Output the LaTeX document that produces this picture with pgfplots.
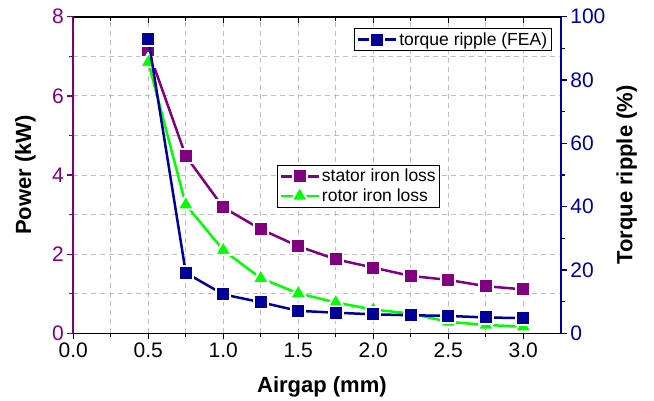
\documentclass[border=0pt]{standalone}
\usepackage{pgfplots}
\pgfplotsset{compat=1.18}
\usepackage{fontspec}
\setmainfont{Liberation Sans}
\definecolor{cpurple}{RGB}{128,0,128}
\definecolor{cblue}{RGB}{0,0,153}
\definecolor{cgreen}{RGB}{0,255,0}
\begin{document}
\begin{tikzpicture}
\pgfplotsset{
  base/.style={scale only axis, width=487.5pt, height=316.6pt, xmin=0, xmax=3.25,
    /pgf/number format/assume math mode=true,
    tick label style={font=\fontsize{21}{24}\selectfont},
    label style={font=\fontsize{22}{26}\selectfont\bfseries},
    xtick={0,0.5,1,1.5,2,2.5,3}, minor x tick num=1,
    axis line style={line width=1.6pt},
    tick style={line width=1.3pt},
    major tick length=6pt, minor tick length=4pt,
    legend style={font=\fontsize{17.5}{20}\selectfont, draw=black, line width=0.8pt, inner sep=2pt, row sep=1pt},
    legend cell align=left,
    legend image code/.code={\draw[mark repeat=2,mark phase=2] plot coordinates {(0pt,0pt) (19pt,0pt) (38pt,0pt)};},
  },
  sq/.style={line width=2.5pt, mark=square*, mark size=7pt, mark options={fill=#1, draw=white, line width=2pt, solid}},
  tri/.style={line width=2.5pt, mark=triangle*, mark size=9.5pt, mark options={fill=#1, draw=white, line width=2pt, line join=round, solid}},
}
% left axis: power
\begin{axis}[base, axis x line*=bottom, axis y line*=left, ymin=0, ymax=8,
  ytick={0,2,4,6,8}, minor y tick num=1, tick align=outside,
  grid=both,
  major grid style={gray!50, line width=0.8pt, dash pattern=on 5pt off 4pt},
  minor grid style={gray!50, line width=0.8pt, dash pattern=on 5pt off 4pt},
  xticklabel style={/pgf/number format/.cd, fixed, fixed zerofill, precision=1},
  x axis line style={black}, xtick style={black},
  y axis line style={cpurple}, ytick style={cpurple}, yticklabel style={cpurple},
  xlabel={Airgap (mm)}, ylabel={Power (kW)},
  xlabel style={at={(axis description cs:0.51,-0.168)}, anchor=center},
  ylabel style={at={(axis description cs:-0.098,0.5)}, anchor=center, rotate=0},
  legend style={at={(axis description cs:0.418,0.532)}, anchor=north west},
]
\addplot[cpurple, sq=cpurple] coordinates {
(0.5,7.15) (0.75,4.48) (1.0,3.18) (1.25,2.63) (1.5,2.20) (1.75,1.87) (2.0,1.66) (2.25,1.45) (2.5,1.35) (2.75,1.19) (3.0,1.11)};
\addlegendentry{stator iron loss}
\addplot[cgreen, tri=cgreen] coordinates {
(0.5,6.85) (0.75,3.25) (1.0,2.10) (1.25,1.39) (1.5,1.01) (1.75,0.78) (2.0,0.60) (2.25,0.50) (2.5,0.29) (2.75,0.21) (3.0,0.17)};
\addlegendentry{rotor iron loss}
\end{axis}
% right axis: torque ripple, with top x ticks (shifted inward)
\begin{axis}[base, axis y line*=right, axis x line*=top, ymin=0, ymax=100,
  ytick={0,20,40,60,80,100}, minor y tick num=1, tick align=outside,
  xticklabels={},
  x axis line style={black, line width=1.8pt},
  major x tick style={black, yshift=-6pt},
  minor x tick style={black, yshift=-4pt},
  y axis line style={cblue}, ytick style={cblue}, yticklabel style={cblue},
  ylabel={Torque ripple (\%)},
  ylabel style={at={(axis description cs:1.135,0.5)}, anchor=center},
  legend style={at={(axis description cs:0.981,0.964)}, anchor=north east},
]
\addplot[cblue, sq=cblue] coordinates {
(0.5,93.0) (0.75,19.1) (1.0,12.3) (1.25,9.8) (1.5,7.1) (1.75,6.5) (2.0,6.0) (2.25,5.7) (2.5,5.5) (2.75,5.0) (3.0,4.8)};
\addlegendentry{torque ripple (FEA)}
\end{axis}
% top frame line
\draw[solid, black, line width=1.6pt] (0pt,316.6pt) -- (487.5pt,316.6pt);
\pgfresetboundingbox
\path[use as bounding box] (-73.3pt,-66.7pt) rectangle (580.7pt,333.3pt);
\end{tikzpicture}
\end{document}
